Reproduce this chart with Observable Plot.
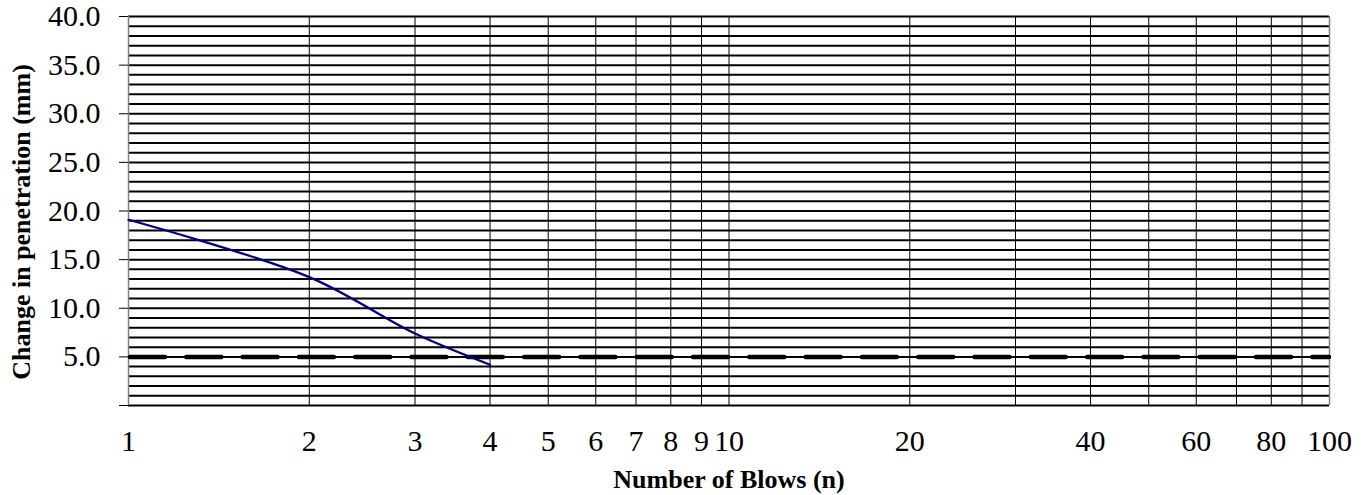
<!DOCTYPE html>
<html>
<head>
<meta charset="utf-8">
<script src="https://cdn.jsdelivr.net/npm/d3@7"></script>
<script src="https://cdn.jsdelivr.net/npm/@observablehq/plot@0.6"></script>
<style>
  html, body { margin: 0; padding: 0; background: #fff; }
</style>
</head>
<body>
<div id="chart"></div>
<script>
// Data
const blows = [1, 2, 3, 4];
const penetration = [19.1, 13.2, 7.4, 4.2];
const limitValue = [5];

// Axis ticks and gridlines
const xTickValues = [1, 2, 3, 4, 5, 6, 7, 8, 9, 10, 20, 40, 60, 80, 100];
const xGridValues = [2, 3, 4, 5, 6, 7, 8, 9, 10, 20, 30, 40, 50, 60, 70, 80, 90];
const xFrameValues = [1, 100];
const yTickValues = [0, 5, 10, 15, 20, 25, 30, 35, 40];
const yGridValues = [0, 1, 2, 3, 4, 5, 6, 7, 8, 9, 10, 11, 12, 13, 14, 15, 16, 17, 18, 19, 20,
  21, 22, 23, 24, 25, 26, 27, 28, 29, 30, 31, 32, 33, 34, 35, 36, 37, 38, 39, 40];

const xTitle = "Number of Blows (n)";
const yTitle = "Change in penetration (mm)";

const data = blows.map((b, i) => ({blows: b, value: penetration[i]}));

const chart = Plot.plot({
  width: 1366,
  height: 495,
  marginLeft: 128,
  marginRight: 37,
  marginTop: 16,
  marginBottom: 90,
  style: {
    fontFamily: "'Liberation Serif', 'Times New Roman', serif",
    fontSize: "30px",
    background: "#fff",
    color: "#000"
  },
  x: {
    type: "log",
    domain: [1, 100],
    axis: null
  },
  y: {
    domain: [0, 40],
    ticks: yTickValues,
    tickFormat: d => d === 0 ? "" : d.toFixed(1),
    tickSize: 9,
    tickPadding: 19,
    label: null
  },
  marks: [
    Plot.ruleY(yGridValues, {stroke: "#000", strokeWidth: 2}),
    Plot.ruleX(xGridValues, {stroke: "#000", strokeWidth: 1}),
    Plot.ruleX(xFrameValues, {stroke: "#808080", strokeWidth: 1.5}),
    Plot.ruleY(limitValue, {stroke: "#000", strokeWidth: 4.5, strokeDasharray: "35,21.3", strokeLinecap: "round", strokeDashoffset: -2}),
    Plot.line(data, {x: "blows", y: "value", curve: "catmull-rom", stroke: "#000080", strokeWidth: 2.2}),
    Plot.text(xTickValues, {x: d => d, text: d => String(d), frameAnchor: "bottom", dy: 24, lineAnchor: "top", fontSize: 30, fill: "#000"}),
    Plot.text([xTitle], {frameAnchor: "bottom", dy: 74, lineAnchor: "middle", fontSize: 26, fontWeight: "bold", fill: "#000"}),
    Plot.text([yTitle], {frameAnchor: "left", dx: -107, dy: 11, rotate: -90, textAnchor: "middle", lineAnchor: "middle", fontSize: 26, fontWeight: "bold", fill: "#000"})
  ]
});

document.getElementById("chart").appendChild(chart);
</script>
</body>
</html>
